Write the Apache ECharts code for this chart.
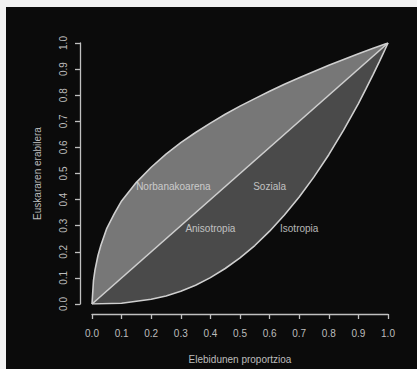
<!DOCTYPE html>
<html>
<head>
<meta charset="utf-8">
<script src="https://cdn.jsdelivr.net/npm/echarts@6/dist/echarts.min.js"></script>
<style>
html,body{margin:0;padding:0;background:#f2f2f2;}
#c{width:417px;height:369px;}
</style>
</head>
<body>
<div id="c"></div>
<script>
// Upper curve (Norbanakoarena boundary)
var upperX = [0, 0.005, 0.01, 0.02, 0.03, 0.05, 0.075, 0.1, 0.15, 0.2, 0.25, 0.3, 0.35, 0.4, 0.45, 0.5, 0.55, 0.6, 0.65, 0.7, 0.75, 0.8, 0.85, 0.9, 0.95, 1];
var upperY = [0, 0.09, 0.13, 0.185, 0.225, 0.29, 0.345, 0.395, 0.466, 0.524, 0.574, 0.618, 0.657, 0.693, 0.727, 0.758, 0.787, 0.815, 0.842, 0.867, 0.891, 0.915, 0.937, 0.959, 0.980, 1];
// Diagonal (Anisotropia / Soziala boundary)
var diagX = [0, 1];
var diagY = [0, 1];
// Lower curve (Isotropia boundary)
var lowerX = [0, 0.1, 0.2, 0.25, 0.3, 0.35, 0.4, 0.45, 0.5, 0.55, 0.6, 0.65, 0.7, 0.75, 0.8, 0.85, 0.9, 0.925, 0.95, 0.97, 0.98, 0.99, 0.995, 1];
var lowerY = [0, 0.003, 0.018, 0.031, 0.049, 0.072, 0.101, 0.136, 0.177, 0.224, 0.279, 0.341, 0.41, 0.487, 0.572, 0.666, 0.768, 0.823, 0.880, 0.927, 0.951, 0.975, 0.9875, 1];
// Region labels
var labelNames = ['Norbanakoarena', 'Soziala', 'Anisotropia', 'Isotropia'];
var labelX = [0.275, 0.6, 0.4, 0.7];
var labelY = [0.45, 0.45, 0.29, 0.29];
// Axis ticks
var tickLabels = ['0.0','0.1','0.2','0.3','0.4','0.5','0.6','0.7','0.8','0.9','1.0'];
var xTitle = 'Elebidunen proportzioa';
var yTitle = 'Euskararen erabilera';

function zip(a, b) { return a.map(function (v, i) { return [v, b[i]]; }); }

var FONT = 'Liberation Sans';
var axisCol = '#c0c0c0';
var lineCol = '#cfcfcf';

function mkAxis(isX) {
  return {
    type: 'value', min: 0, max: 1, interval: 0.1,
    position: isX ? 'bottom' : 'left',
    offset: isX ? 10 : 12,
    splitLine: { show: false },
    axisLine: { show: true, onZero: false, lineStyle: { color: axisCol, width: 1.3, type: 'solid' } },
    axisTick: { show: true, inside: false, length: 5, lineStyle: { color: axisCol, width: 1.3, type: 'solid' } },
    axisLabel: {
      color: '#bdbdbd', fontFamily: FONT, fontSize: 10,
      margin: isX ? 14 : 12,
      rotate: isX ? 0 : 90,
      formatter: function (v) { return tickLabels[Math.round(v * 10)]; }
    },
    name: isX ? xTitle : yTitle,
    nameLocation: 'middle',
    nameGap: isX ? 40 : 38,
    nameRotate: isX ? 0 : 90,
    nameTextStyle: { color: '#bdbdbd', fontFamily: FONT, fontSize: 10 }
  };
}

function area(data, color) {
  return {
    type: 'line', data: data, showSymbol: false, symbol: 'none', silent: true,
    lineStyle: { width: 0, opacity: 0 },
    areaStyle: { color: color, opacity: 1, origin: 'start' },
    z: 1
  };
}
function curve(data) {
  return {
    type: 'line', data: data, showSymbol: false, symbol: 'none', silent: true,
    lineStyle: { width: 1.6, color: lineCol }, z: 3
  };
}

var chart = echarts.init(document.getElementById('c'), null, { renderer: 'svg' });
chart.setOption({
  animation: false,
  backgroundColor: '#0b0b0b',
  grid: { left: 92, right: 29, top: 43, bottom: 65, containLabel: false, show: false },
  xAxis: mkAxis(true),
  yAxis: mkAxis(false),
  graphic: [
    { type: 'rect', shape: { x: 0, y: 0, width: 417, height: 7 }, style: { fill: '#f2f2f2' }, z: 100 },
    { type: 'rect', shape: { x: 0, y: 0, width: 6, height: 369 }, style: { fill: '#f2f2f2' }, z: 100 }
  ],
  series: [
    area(zip(upperX, upperY), '#777777'),
    area(zip(diagX, diagY), '#4a4a4a'),
    area(zip(lowerX, lowerY), '#0b0b0b'),
    curve(zip(upperX, upperY)),
    curve(zip(diagX, diagY)),
    curve(zip(lowerX, lowerY)),
    {
      type: 'scatter', symbolSize: 0, silent: true, z: 5,
      data: labelNames.map(function (n, i) { return { name: n, value: [labelX[i], labelY[i]] }; }),
      label: {
        show: true, position: 'inside', formatter: '{b}',
        color: '#e0e0e0', fontFamily: FONT, fontSize: 10
      }
    }
  ]
});
</script>
</body>
</html>
